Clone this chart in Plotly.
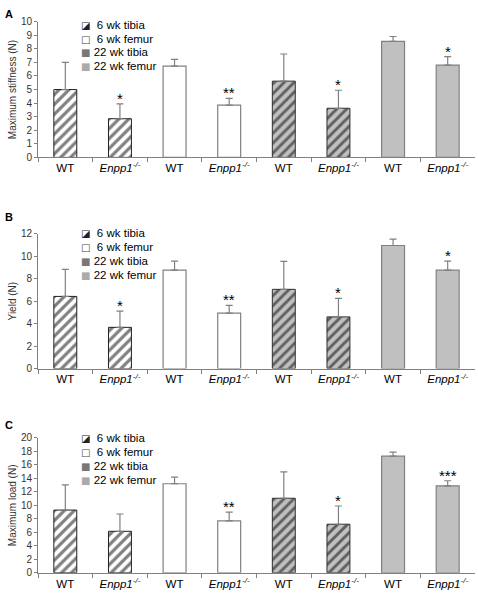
import plotly.graph_objects as go

# ---------------- data ----------------
cat_ids = ["c0", "c1", "c2", "c3", "c4", "c5", "c6", "c7"]
cat_labels = ["WT", "<i>Enpp1<sup>-/-</sup></i>"] * 4
series_names = ["\u00a06 wk tibia", "\u00a06 wk femur", "22 wk tibia", "22 wk femur"]

# panel A: maximum stiffness (N)  [WT, Enpp1-/-] per series
stiff_vals = [[5.0, 2.85], [6.72, 3.85], [5.62, 3.62], [8.55, 6.8]]
stiff_err = [[2.0, 1.1], [0.5, 0.5], [2.0, 1.33], [0.36, 0.62]]
stiff_sig = [["", "*"], ["", "**"], ["", "*"], ["", "*"]]

# panel B: yield (N)
yield_vals = [[6.42, 3.67], [8.75, 4.93], [7.05, 4.6], [10.95, 8.75]]
yield_err = [[2.4, 1.45], [0.8, 0.7], [2.48, 1.65], [0.57, 0.8]]
yield_sig = [["", "*"], ["", "**"], ["", "*"], ["", "*"]]

# panel C: maximum load (N)
load_vals = [[9.3, 6.15], [13.2, 7.7], [11.05, 7.2], [17.3, 12.9]]
load_err = [[3.75, 2.57], [1.0, 1.3], [3.9, 2.7], [0.6, 0.75]]
load_sig = [["", ""], ["", "**"], ["", "*"], ["", "***"]]

y_titles = ["Maximum stiffness (N)", "Yield (N)", "Maximum load (N)"]
y_ranges = [[0, 10], [0, 12], [0, 20]]
y_dticks = [1, 2, 2]
panel_letters = ["A", "B", "C"]

# ---------------- style ----------------
W, H = 478, 602
FONT = "Liberation Sans, Arial, sans-serif"
GRAY = "#c0c0c0"
EDGE = "#808080"
styles = [
    dict(color="white", line=dict(color="#202020", width=1),
         pattern=dict(shape="/", fgcolor="black", bgcolor="white", size=7, solidity=0.45)),
    dict(color="white", line=dict(color=EDGE, width=1.2)),
    dict(color=GRAY, line=dict(color="#303030", width=1),
         pattern=dict(shape="/", fgcolor="black", bgcolor=GRAY, size=7, solidity=0.42)),
    dict(color=GRAY, line=dict(color=EDGE, width=1.2)),
]
legend_glyphs = [("\u25EA", "#222222"), ("\u25A1", "#444444"),
                 ("\u25A0", "#777777"), ("\u25A0", "#aaaaaa")]

# pixel geometry -> paper fractions
x_dom = [38 / W, 475 / W]
y_doms_px = [(16, 154.5), (232.3, 370), (440.7, 578.3)]
letter_y_px = [8, 215, 428]
legend_row1_px = [19, 232, 441]
ROW = 14.2
LEG_X = 79

panels = [
    (stiff_vals, stiff_err, stiff_sig),
    (yield_vals, yield_err, yield_sig),
    (load_vals, load_err, load_sig),
]

fig = go.Figure()
annotations = []
layout = {}

for p, (vals, errs, sigs) in enumerate(panels):
    sfx = "" if p == 0 else str(p + 1)
    xa, ya = "x" + sfx, "y" + sfx
    for s in range(4):
        xs = cat_ids[2 * s:2 * s + 2]
        fig.add_trace(go.Bar(
            x=xs, y=vals[s], name=series_names[s],
            xaxis=xa, yaxis=ya,
            width=0.42, marker=styles[s],
            error_y=dict(type="data", symmetric=False, array=errs[s],
                         arrayminus=[0, 0], color=EDGE, thickness=1.2, width=3.5),
            showlegend=False,
        ))
        glyph, gcol = legend_glyphs[s]
        annotations.append(dict(
            x=LEG_X / W, y=1 - (legend_row1_px[p] + ROW * s) / H,
            xref="paper", yref="paper", xanchor="left", yanchor="middle",
            showarrow=False,
            text='<span style="font-family:DejaVu Sans;color:%s;font-size:10px">%s</span> %s'
                 % (gcol, glyph, series_names[s]),
            font=dict(family=FONT, size=11.5, color="black")))
        for k in range(2):
            if sigs[s][k]:
                annotations.append(dict(
                    x=xs[k], y=vals[s][k] + errs[s][k], xref=xa, yref=ya,
                    text=sigs[s][k], showarrow=False, yanchor="bottom", yshift=-5,
                    font=dict(family=FONT, size=15, color="black")))
    top, bot = y_doms_px[p]
    layout["xaxis" + sfx] = dict(
        domain=x_dom, anchor=ya, type="category",
        categoryorder="array", categoryarray=cat_ids,
        tickmode="array", tickvals=cat_ids, ticktext=cat_labels,
        tickson="boundaries", ticks="outside", ticklen=4, tickcolor=EDGE,
        showline=True, linecolor=EDGE, linewidth=1, showgrid=False,
        tickfont=dict(family=FONT, size=11.5, color="black"),
        range=[-0.5, 7.5], fixedrange=True,
    )
    layout["yaxis" + sfx] = dict(
        domain=[1 - bot / H, 1 - top / H], anchor=xa,
        range=y_ranges[p], dtick=y_dticks[p], tick0=0,
        ticks="outside", ticklen=3, tickcolor=EDGE,
        showline=True, linecolor=EDGE, linewidth=1, showgrid=False, zeroline=False,
        tickfont=dict(family=FONT, size=10, color="#333333"),
        title=dict(text=y_titles[p], font=dict(family=FONT, size=10, color="#333333"), standoff=2),
    )
    annotations.append(dict(
        x=3 / W, y=1 - letter_y_px[p] / H, xref="paper", yref="paper",
        xanchor="left", yanchor="middle", text="<b>%s</b>" % panel_letters[p],
        showarrow=False, font=dict(family=FONT, size=11, color="black")))

fig.update_layout(
    width=W, height=H,
    margin=dict(l=0, r=0, t=0, b=0),
    paper_bgcolor="white", plot_bgcolor="white",
    barmode="overlay", showlegend=False,
    annotations=annotations,
    font=dict(family=FONT),
    **layout,
)

fig.write_html("out.html", config={"displayModeBar": False},
               post_script="document.body.style.margin='0px';")
